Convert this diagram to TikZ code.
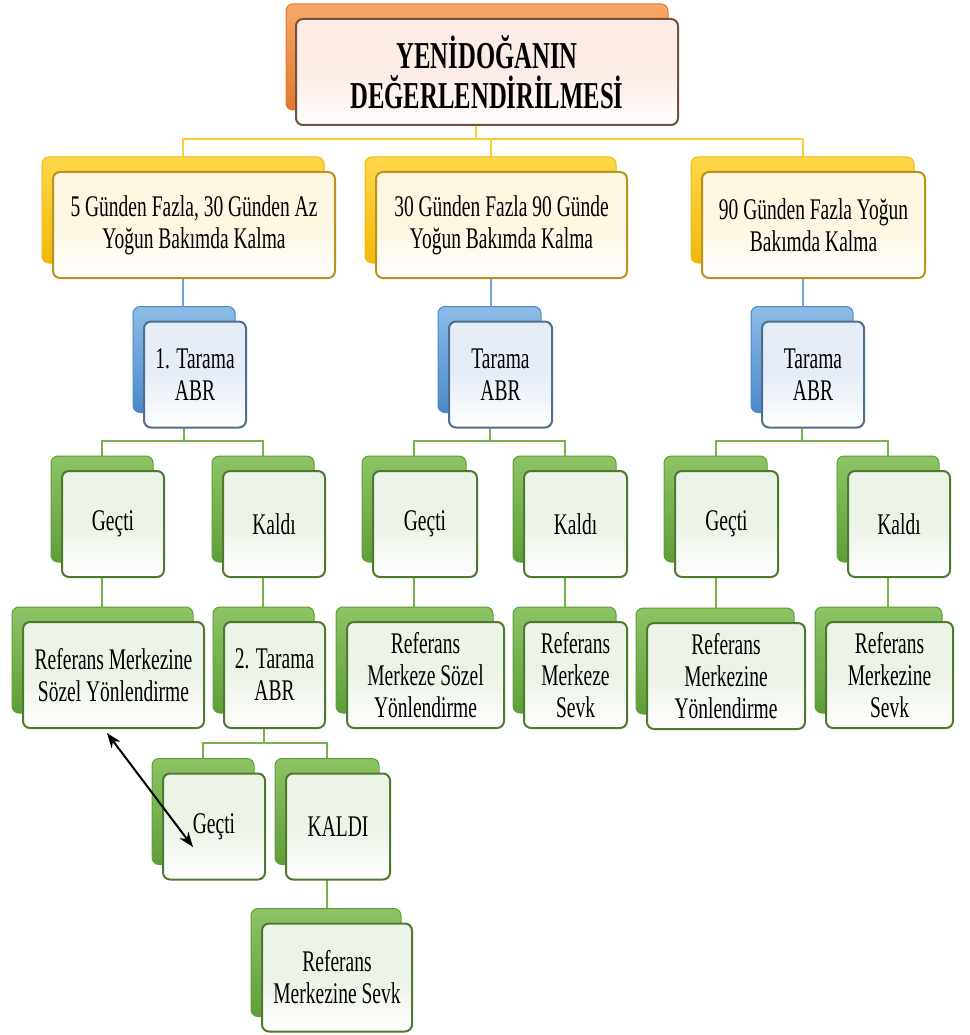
\documentclass[tikz,border=0pt]{standalone}
\usepackage{fontspec}
\setmainfont[FakeStretch=0.65]{Liberation Serif}
\usetikzlibrary{shadows,backgrounds,arrows.meta}
\definecolor{orL}{HTML}{F6A868}
\definecolor{orD}{HTML}{E2782A}
\definecolor{orT}{HTML}{FCECE6}
\definecolor{orB}{HTML}{74503F}
\definecolor{yeL}{HTML}{FFD84A}
\definecolor{yeD}{HTML}{F0B80A}
\definecolor{yeT}{HTML}{FDF6E0}
\definecolor{yeB}{HTML}{B8941F}
\definecolor{blL}{HTML}{8DBCE8}
\definecolor{blD}{HTML}{4A89C8}
\definecolor{blT}{HTML}{E6EDF7}
\definecolor{blB}{HTML}{4F6E8F}
\definecolor{grL}{HTML}{8CC466}
\definecolor{grD}{HTML}{5E9E38}
\definecolor{grT}{HTML}{ECF3E7}
\definecolor{grB}{HTML}{4E7A30}
\definecolor{yeLine}{HTML}{FFCC33}
\definecolor{blLine}{HTML}{6FA3D8}
\definecolor{grLine}{HTML}{76B34E}
\tikzset{
  box/.style={rounded corners=7pt, line width=2pt, minimum height=106pt,
    inner sep=2pt, align=center, text=black,
    font=\fontsize{30}{32}\selectfont},
  orbox/.style={box, draw=orB, top color=orT, bottom color=white, middle color=orT,
    general shadow={top color=orL, bottom color=orD, draw=orD, line width=1pt,
      shadow xshift=-10pt, shadow yshift=15pt}},
  yebox/.style={box, draw=yeB, top color=yeT, bottom color=white, middle color=yeT,
    general shadow={top color=yeL, bottom color=yeD, draw=yeD, line width=1pt,
      shadow xshift=-11pt, shadow yshift=15pt}},
  blbox/.style={box, draw=blB, top color=blT, bottom color=white, middle color=blT,
    general shadow={top color=blL, bottom color=blD, draw=blD, line width=1pt,
      shadow xshift=-11pt, shadow yshift=15pt}},
  grbox/.style={box, draw=grB, top color=grT, bottom color=white, middle color=grT,
    general shadow={top color=grL, bottom color=grD, draw=grD, line width=1pt,
      shadow xshift=-11pt, shadow yshift=15pt}},
  yline/.style={draw=yeLine, line width=2pt},
  bline/.style={draw=blLine, line width=2pt},
  gline/.style={draw=grLine, line width=2pt},
  twoway/.style={draw=black, line width=2pt,
    {Stealth[length=15pt,width=11pt]}-{Stealth[length=15pt,width=11pt]}}
}
\begin{document}
\begin{tikzpicture}[x=1pt,y=-1pt]
\useasboundingbox (0,0) rectangle (969,1035);
% level 0
\node[orbox, minimum width=382pt, font=\fontsize{38}{40}\selectfont\bfseries] (top) at (487,72)
  {YENİDOĞANIN\\DEĞERLENDİRİLMESİ};
% level 1
\node[yebox, minimum width=282pt] (A) at (194,225) {5 Günden Fazla, 30 Günden Az\\Yoğun Bakımda Kalma};
\node[yebox, minimum width=251pt] (B) at (501.5,225) {30 Günden Fazla 90 Günde\\Yoğun Bakımda Kalma};
\node[yebox, minimum width=223pt] (C) at (813.5,225) {90 Günden Fazla Yoğun\\Bakımda Kalma};
% level 2
\node[blbox, minimum width=102pt] (T1) at (195,374.5) {1. Tarama\\ABR};
\node[blbox, minimum width=103pt] (T2) at (500.5,374.5) {Tarama\\ABR};
\node[blbox, minimum width=102pt] (T3) at (813,374.5) {Tarama\\ABR};
% level 3
\node[grbox, minimum width=102pt] (G1) at (113,524) {Geçti};
\node[grbox, minimum width=102pt] (K1) at (274,524) {Kaldı};
\node[grbox, minimum width=104pt] (G2) at (425,524) {Geçti};
\node[grbox, minimum width=103pt] (K2) at (575.5,524) {Kaldı};
\node[grbox, minimum width=103pt] (G3) at (726.5,524) {Geçti};
\node[grbox, minimum width=102pt] (K3) at (899,524) {Kaldı};
% level 4
\node[grbox, minimum width=181pt] (R1) at (113.5,675) {Referans Merkezine\\Sözel Yönlendirme};
\node[grbox, minimum width=101pt] (T21) at (274.5,675) {2. Tarama\\ABR};
\node[grbox, minimum width=157pt] (R2) at (425.5,675) {Referans\\Merkeze Sözel\\Yönlendirme};
\node[grbox, minimum width=103pt] (R3) at (575.5,675) {Referans\\Merkeze\\Sevk};
\node[grbox, minimum width=158pt] (R4) at (726,676) {Referans\\Merkezine\\Yönlendirme};
\node[grbox, minimum width=127pt] (R5) at (889.5,675) {Referans\\Merkezine\\Sevk};
% level 5
\node[grbox, minimum width=102pt] (G4) at (214,826.5) {Geçti};
\node[grbox, minimum width=104pt] (K4) at (338,826.5) {KALDI};
% level 6
\node[grbox, minimum width=150pt, minimum height=108pt] (R6) at (337,977.5) {Referans\\Merkezine Sevk};
% connector anchor points (centres of the back boxes)
\foreach \n in {top,A,B,C,T1,T2,T3,G1,K1,G2,K2,G3,K3,T21,G4,K4}
  \coordinate (c\n) at ([xshift=-11pt]\n.center);
\begin{scope}[on background layer]
  \draw[yline] (ctop) -- (ctop |- 0,139) -| (cA);
  \draw[yline] (ctop |- 0,139) -| (cB);
  \draw[yline] (ctop |- 0,139) -| (cC);
  \draw[bline] (cA) -- (cA |- T1.center);
  \draw[bline] (cB) -- (cB |- T2.center);
  \draw[bline] (cC) -- (cC |- T3.center);
  \draw[gline] (cT1) -- (cT1 |- 0,441) -| (cG1);
  \draw[gline] (cT1 |- 0,441) -| (cK1);
  \draw[gline] (cT2) -- (cT2 |- 0,441) -| (cG2);
  \draw[gline] (cT2 |- 0,441) -| (cK2);
  \draw[gline] (cT3) -- (cT3 |- 0,441) -| (cG3);
  \draw[gline] (cT3 |- 0,441) -| (cK3);
  \draw[gline] (cG1) -- (cG1 |- R1.center);
  \draw[gline] (cK1) -- (cK1 |- T21.center);
  \draw[gline] (cG2) -- (cG2 |- R2.center);
  \draw[gline] (cK2) -- (cK2 |- R3.center);
  \draw[gline] (cG3) -- (cG3 |- R4.center);
  \draw[gline] (cK3) -- (cK3 |- R5.center);
  \draw[gline] (cT21) -- (cT21 |- 0,743) -| (cG4);
  \draw[gline] (cT21 |- 0,743) -| (cK4);
  \draw[gline] (cK4) -- (cK4 |- R6.center);
\end{scope}
% double-headed arrow
\coordinate (arrA) at (107,733);
\coordinate (arrB) at (193,847);
\draw[twoway] (arrA) -- (arrB);
\end{tikzpicture}
\end{document}
